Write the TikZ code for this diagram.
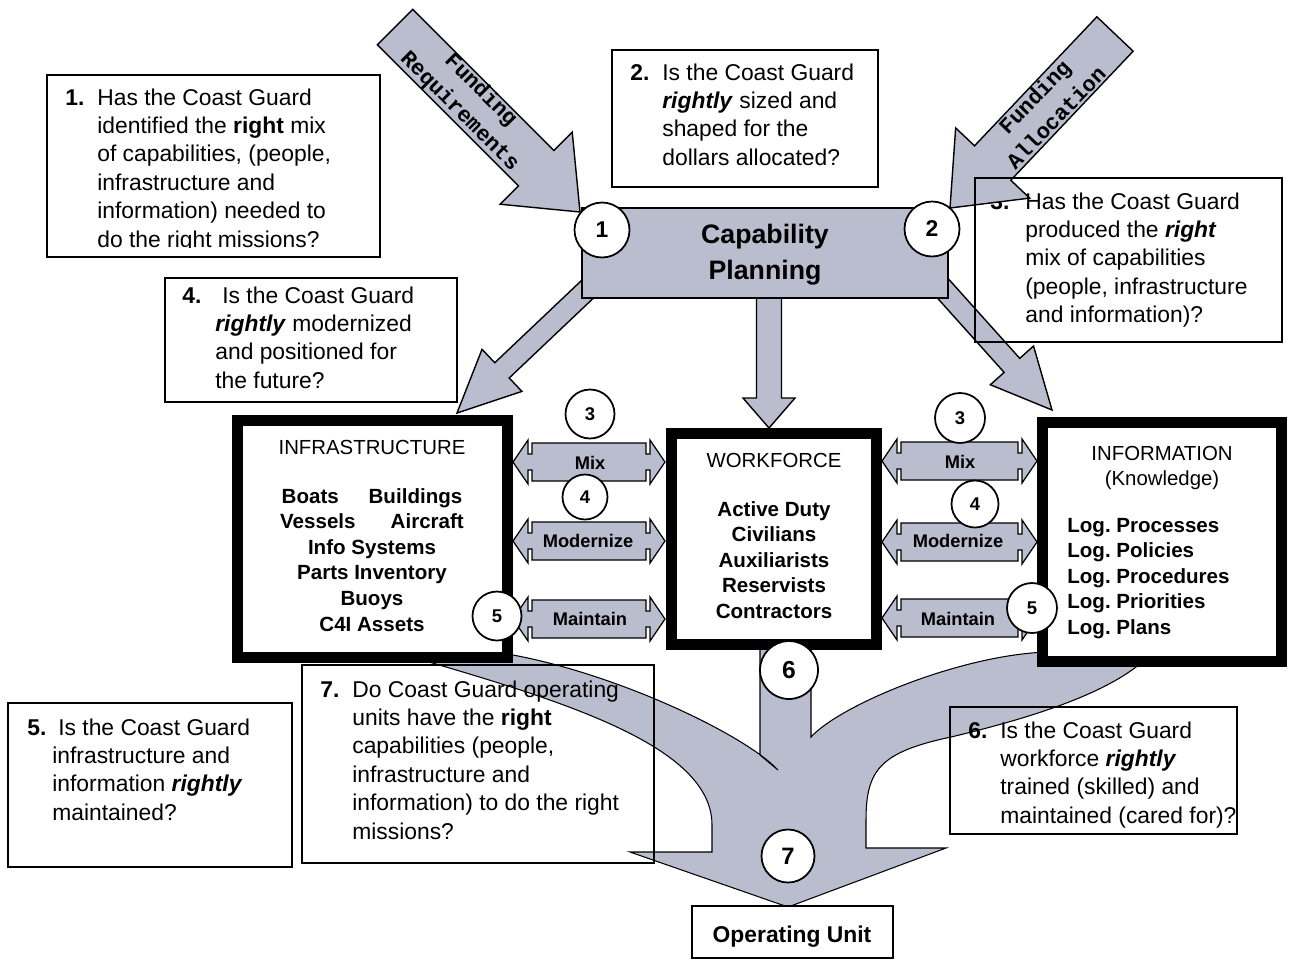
\documentclass[tikz,border=0pt]{standalone}
\usepackage{fontspec}
\setmainfont{Liberation Sans}
\newfontfamily\monofont{Liberation Mono}
\usetikzlibrary{calc}
\definecolor{gfill}{RGB}{186,189,205}
\frenchspacing

\tikzset{
  gshape/.style={fill=gfill, draw=black, line width=0.8pt, line join=miter},
  thickbox/.style={draw=black, fill=white, line width=6.2pt, inner sep=0pt, outer sep=0pt},
  qbox/.style={draw=black, line width=0.8pt, inner sep=0pt, outer sep=0pt, anchor=north west},
  qtext/.style={anchor=base west, inner sep=0pt, font=\fontsize{13}{16.2}\selectfont},
  qnum/.style={anchor=base west, inner sep=0pt, font=\fontsize{13}{16.2}\selectfont\bfseries},
  numcirc/.style={circle, draw=black, fill=white, line width=1pt, inner sep=0pt},
  itemtext/.style={anchor=base, inner sep=0pt, font=\fontsize{11.7}{14.6}\selectfont\bfseries},
  headtext/.style={anchor=base, inner sep=0pt, font=\fontsize{11.6}{14.6}\selectfont},
  arrlabel/.style={inner sep=0pt, font=\fontsize{10.4}{12}\selectfont\bfseries},
  fundtext/.style={inner sep=0pt, align=center, font=\fontsize{12.5}{17}\selectfont\monofont\bfseries},
}

% tail, tip, shaft half width, head half width, head length
\newcommand{\fatarrow}[5]{%
  \coordinate (fab) at ($(#2)!#5!(#1)$);
  \draw[gshape] ($(#1)!#3!90:(#2)$) -- ($(fab)!#3!-90:(#1)$) -- ($(fab)!#4!-90:(#1)$) -- (#2)
    -- ($(fab)!#4!90:(#1)$) -- ($(fab)!#3!90:(#1)$) -- ($(#1)!#3!-90:(#2)$) -- cycle;
}
% left tip x, right tip x, centre y
\newcommand{\dblarrow}[3]{%
  \draw[gshape, line width=0.7pt] (#1,#3) -- ({#1+15},{#3-22}) -- ({#1+15},{#3-8}) -- ({#1+19},{#3-8})
    -- ({#1+19},{#3-19}) -- ({#2-19},{#3-19}) -- ({#2-19},{#3-8}) -- ({#2-15},{#3-8})
    -- ({#2-15},{#3-22}) -- (#2,#3) -- ({#2-15},{#3+22}) -- ({#2-15},{#3+8}) -- ({#2-19},{#3+8})
    -- ({#2-19},{#3+19}) -- ({#1+19},{#3+19}) -- ({#1+19},{#3+8}) -- ({#1+15},{#3+8})
    -- ({#1+15},{#3+22}) -- cycle;
}

\begin{document}
\begin{tikzpicture}[x=0.02cm, y=-0.02cm]
\useasboundingbox (0,0) rectangle (1294,961);
\fill[white] (0,0) rectangle (1294,961);

% number of box 3 (lies under the funding arrow head)
\node[qnum] (q3n) at (990,209) {3.};

% big arrows
\coordinate (frTail) at (395,27);
\coordinate (frTip) at (580,212);
\coordinate (faTail) at (1115,34);
\coordinate (faTip) at (950,208);
\coordinate (cpL) at (592,285);
\coordinate (cpLtip) at (457,413);
\coordinate (cpM) at (769,290);
\coordinate (cpMtip) at (769,428);
\coordinate (cpR) at (938,283);
\coordinate (cpRtip) at (1052,410);

\fatarrow{frTail}{frTip}{0.5cm}{1.02cm}{1.24cm}
\fatarrow{faTail}{faTip}{0.5cm}{1.02cm}{1.24cm}
\fatarrow{cpL}{cpLtip}{0.21cm}{0.58cm}{1.24cm}
\fatarrow{cpM}{cpMtip}{0.25cm}{0.52cm}{0.6cm}
\fatarrow{cpR}{cpRtip}{0.21cm}{0.58cm}{1.2cm}

\node[fundtext, rotate=-45] (frText) at (470,101) {Funding\\Requirements};
\node[fundtext, rotate=46] (faText) at (1045,107) {Funding\\Allocation};

% capability planning
\node[draw=black, fill=gfill, line width=0.8pt, minimum width=7.32cm, minimum height=1.8cm, inner sep=0pt] (cp) at (765,253) {};
\node[anchor=base, inner sep=0pt, font=\fontsize{15.2}{21}\selectfont\bfseries] (cpt) at (765,243)
  {\begin{tabular}[t]{@{}c@{}}Capability\\Planning\end{tabular}};

% funnel
\draw[gshape, line width=0.6pt] (405,655) .. controls (560,700) and (712,745) .. (712,825)
  -- (712,852) -- (630,852) -- (788,907) -- (946,848) -- (866,848) -- (866,820)
  .. controls (866,770) and (880,752) .. (951,737)
  .. controls (1043,715) and (1115,690) .. (1150,655)
  -- (1047,652) .. controls (960,655) and (840,705) .. (811,737)
  -- (811,640) -- (760,640) -- (760,755) -- (778,770)
  .. controls (745,735) and (620,675) .. (513,655) -- cycle;

% double arrows
\dblarrow{513}{665}{462}
\dblarrow{513}{665}{541}
\dblarrow{513}{665}{619}
\dblarrow{882}{1037}{461}
\dblarrow{882}{1037}{542}
\dblarrow{882}{1037}{618}
\node[arrlabel] (mixL) at (590,463) {Mix};
\node[arrlabel] (modL) at (588,541) {Modernize};
\node[arrlabel] (maiL) at (590,619) {Maintain};
\node[arrlabel] (mixR) at (960,462) {Mix};
\node[arrlabel] (modR) at (958,541) {Modernize};
\node[arrlabel] (maiR) at (958,619) {Maintain};

% thick boxes
\node[thickbox, minimum width=5.4cm, minimum height=4.74cm] (infra) at (372.5,539) {};
\node[thickbox, minimum width=4.1cm, minimum height=4.22cm] (work) at (774,539) {};
\node[thickbox, minimum width=4.78cm, minimum height=4.78cm] (info) at (1162,542) {};

\node[headtext] (infh) at (372,454) {INFRASTRUCTURE};
\node[itemtext] (infi) at (372,503) {\begin{tabular}[t]{@{}c@{}}Boats\hspace{17pt}Buildings\\Vessels\hspace{20pt}Aircraft\\Info Systems\\Parts Inventory\\Buoys\\C4I Assets\end{tabular}};
\node[headtext] (workh) at (774,467) {WORKFORCE};
\node[itemtext] (worki) at (774,516) {\begin{tabular}[t]{@{}c@{}}Active Duty\\Civilians\\Auxiliarists\\Reservists\\Contractors\end{tabular}};
\node[headtext] (infoh) at (1162,460) {\begin{tabular}[t]{@{}c@{}}INFORMATION\\(Knowledge)\end{tabular}};
\node[itemtext, anchor=base west] (infoi) at (1067,532) {\begin{tabular}[t]{@{}l@{}}Log. Processes\\Log. Policies\\Log. Procedures\\Log. Priorities\\Log. Plans\end{tabular}};

% question boxes
\node[qbox, minimum width=6.66cm, minimum height=3.64cm] (q1) at (47,75) {};
\begin{scope}
\clip (47,75) rectangle (380,247);
\node[qnum] (q1n) at (65,105) {1.};
\node[qtext] (q1t) at (97,105) {\begin{tabular}[t]{@{}l@{}}Has the Coast Guard\\identified the \textbf{right} mix\\of capabilities, (people,\\infrastructure and\\information) needed to\\do the right missions?\end{tabular}};
\end{scope}

\node[qbox, minimum width=5.32cm, minimum height=2.74cm] (q2) at (612,50) {};
\node[qnum] (q2n) at (630,80) {2.};
\node[qtext] (q2t) at (662,80) {\begin{tabular}[t]{@{}l@{}}Is the Coast Guard\\\textbf{\textit{rightly}} sized and\\shaped for the\\dollars allocated?\end{tabular}};

\node[qbox, minimum width=6.14cm, minimum height=3.28cm] (q3) at (975,178) {};
\node[qtext] (q3t) at (1025,209) {\begin{tabular}[t]{@{}l@{}}Has the Coast Guard\\produced the \textbf{\textit{right}}\\mix of capabilities\\(people, infrastructure\\and information)?\end{tabular}};

\node[qbox, minimum width=5.84cm, minimum height=2.48cm] (q4) at (165,278) {};
\node[qnum] (q4n) at (182,303) {4.};
\node[qtext] (q4t) at (215,303) {\begin{tabular}[t]{@{}l@{}}\hspace{4pt}Is the Coast Guard\\\textbf{\textit{rightly}} modernized\\and positioned for\\the future?\end{tabular}};

\node[qbox, minimum width=5.68cm, minimum height=3.28cm] (q5) at (8,703) {};
\node[qnum] (q5n) at (27,735) {5.};
\node[qtext] (q5t) at (52,735) {\begin{tabular}[t]{@{}l@{}}\hspace{3.4pt}Is the Coast Guard\\infrastructure and\\information \textbf{\textit{rightly}}\\maintained?\end{tabular}};

\node[qbox, minimum width=5.74cm, minimum height=2.54cm] (q6) at (950,707) {};
\node[qnum] (q6n) at (968,738) {6.};
\node[qtext] (q6t) at (1000,738) {\begin{tabular}[t]{@{}l@{}}Is the Coast Guard\\workforce \textbf{\textit{rightly}}\\trained (skilled) and\\maintained (cared for)?\end{tabular}};

\node[qbox, minimum width=7.04cm, minimum height=3.96cm] (q7) at (302,665) {};
\node[qnum] (q7n) at (320,697) {7.};
\node[qtext] (q7t) at (352,697) {\begin{tabular}[t]{@{}l@{}}Do Coast Guard operating\\units have the \textbf{right}\\capabilities (people,\\infrastructure and\\information) to do the right\\missions?\end{tabular}};

% operating unit
\node[qbox, anchor=center, fill=white, minimum width=4.02cm, minimum height=1.04cm] (ou) at (792.5,932) {};
\node[anchor=base, inner sep=0pt, font=\fontsize{13}{16}\selectfont\bfseries] (out) at (792,942) {Operating Unit};

% numbered circles
\node[numcirc, minimum size=1.1cm, font=\fontsize{13}{15}\selectfont\bfseries] (c1) at (602,230) {1};
\node[numcirc, minimum size=1.1cm, font=\fontsize{13}{15}\selectfont\bfseries] (c2) at (932,229) {2};
\node[numcirc, minimum size=0.98cm, font=\fontsize{10.5}{12}\selectfont\bfseries] (c3l) at (590,414) {3};
\node[numcirc, minimum size=0.9cm, font=\fontsize{10.5}{12}\selectfont\bfseries] (c4l) at (585,497) {4};
\node[numcirc, minimum size=0.98cm, font=\fontsize{10.5}{12}\selectfont\bfseries] (c5l) at (497,616) {5};
\node[numcirc, minimum size=1.0cm, font=\fontsize{10.5}{12}\selectfont\bfseries] (c3r) at (960,418) {3};
\node[numcirc, minimum size=0.94cm, font=\fontsize{10.5}{12}\selectfont\bfseries] (c4r) at (975,504) {4};
\node[numcirc, minimum size=1.0cm, font=\fontsize{10.5}{12}\selectfont\bfseries] (c5r) at (1032,608) {5};
\node[numcirc, minimum size=1.16cm, font=\fontsize{14}{16}\selectfont\bfseries] (c6) at (789,670) {6};
\node[numcirc, minimum size=1.06cm, font=\fontsize{13.5}{16}\selectfont\bfseries] (c7) at (788,856) {7};
\end{tikzpicture}
\end{document}
